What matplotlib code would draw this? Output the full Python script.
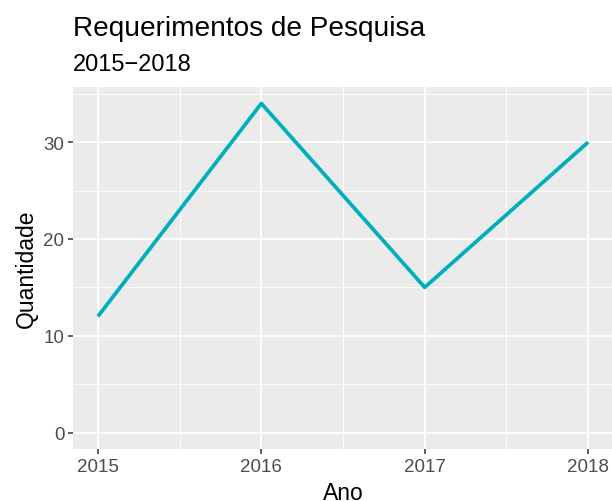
import matplotlib.pyplot as plt

anos = [2015, 2016, 2017, 2018]
quantidade = [12, 34, 15, 30]
yticks = [0, 10, 20, 30]

plt.rcParams['font.family'] = ['Liberation Sans', 'DejaVu Sans']

fig = plt.figure(figsize=(6.12, 5.02), dpi=100)
ax = fig.add_axes([0.120, 0.1036, 0.881, 0.7211])
ax.set_facecolor('#EBEBEB')

ax.plot(anos, quantidade, color='#00AFBB', linewidth=2.7, solid_capstyle='butt', zorder=3)

ax.set_xlim(2015 - 0.15, 2018 + 0.15)
ax.set_ylim(-1.7, 35.7)
ax.set_xticks(anos)
ax.set_yticks(yticks)
ax.set_xticks([2015.5, 2016.5, 2017.5], minor=True)
ax.set_yticks([5, 15, 25, 35], minor=True)

ax.grid(which='major', color='white', linewidth=1.3)
ax.grid(which='minor', color='white', linewidth=0.65)
ax.set_axisbelow(True)
for s in ax.spines.values():
    s.set_visible(False)

ax.tick_params(which='major', length=3.5, width=1.1, color='#333333',
               labelcolor='#4D4D4D', labelsize=13.5, pad=3)
ax.tick_params(which='minor', length=0)

ax.set_xlabel('Ano', fontsize=16.5, color='black', labelpad=4)
ax.set_ylabel('Quantidade', fontsize=16.5, color='black', labelpad=4)

fig.text(0.119, 0.928, 'Requerimentos de Pesquisa', fontsize=20.2, ha='left', va='baseline')
fig.text(0.119, 0.859, '2015\u22122018', fontsize=17, ha='left', va='baseline')

fig.savefig('out.png', dpi=100)
